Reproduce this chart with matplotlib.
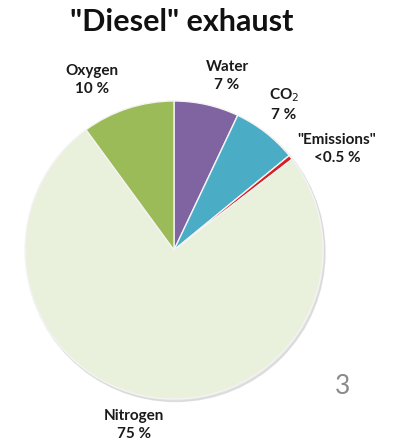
import matplotlib
matplotlib.use("Agg")
import matplotlib.pyplot as plt
from matplotlib.patches import Circle

labels = ["Water", "CO$_2$", '"Emissions"', "Nitrogen", "Oxygen"]
pct_text = ["7 %", "7 %", "<0.5 %", "75 %", "10 %"]
values = [7, 7, 0.5, 75, 10]
colors = ["#8064A2", "#4BACC6", "#D92020", "#E9F0DC", "#9BBB59"]

W, H = 406, 441
fig = plt.figure(figsize=(W / 100, H / 100), dpi=100)
ax = fig.add_axes([0, 0, 1, 1])

cx, cy, r = 174, H - 250, 149
ax.add_patch(Circle((cx + 1.5, cy - 2), r + 0.5, color="#cfcfcf", alpha=0.6, zorder=0))
ax.pie(values, colors=colors, startangle=90, counterclock=False, radius=r,
       center=(cx, cy), frame=True,
       wedgeprops=dict(edgecolor="#f4f4f4", linewidth=1.0))
ax.set_xlim(0, W)
ax.set_ylim(0, H)
ax.set_aspect("equal")
ax.axis("off")

font = "Lato"
label_pos = [(227, 76), (284, 104), (337, 149), (134, 425), (92, 80)]
for lab, pt, (x, y) in zip(labels, pct_text, label_pos):
    ax.text(x, H - y, lab + "\n" + pt, ha="center", va="center", fontsize=11,
            fontweight="bold", family=font, color="#1a1a1a", linespacing=1.35)

ax.text(182, H - 22, '"Diesel" exhaust', ha="center", va="center", fontsize=22,
        fontweight="bold", family=font, color="#111111")
ax.text(343, H - 387, "3", ha="center", va="center", fontsize=19,
        family=font, color="#8a8a8a")

fig.savefig("out.png", dpi=100)
